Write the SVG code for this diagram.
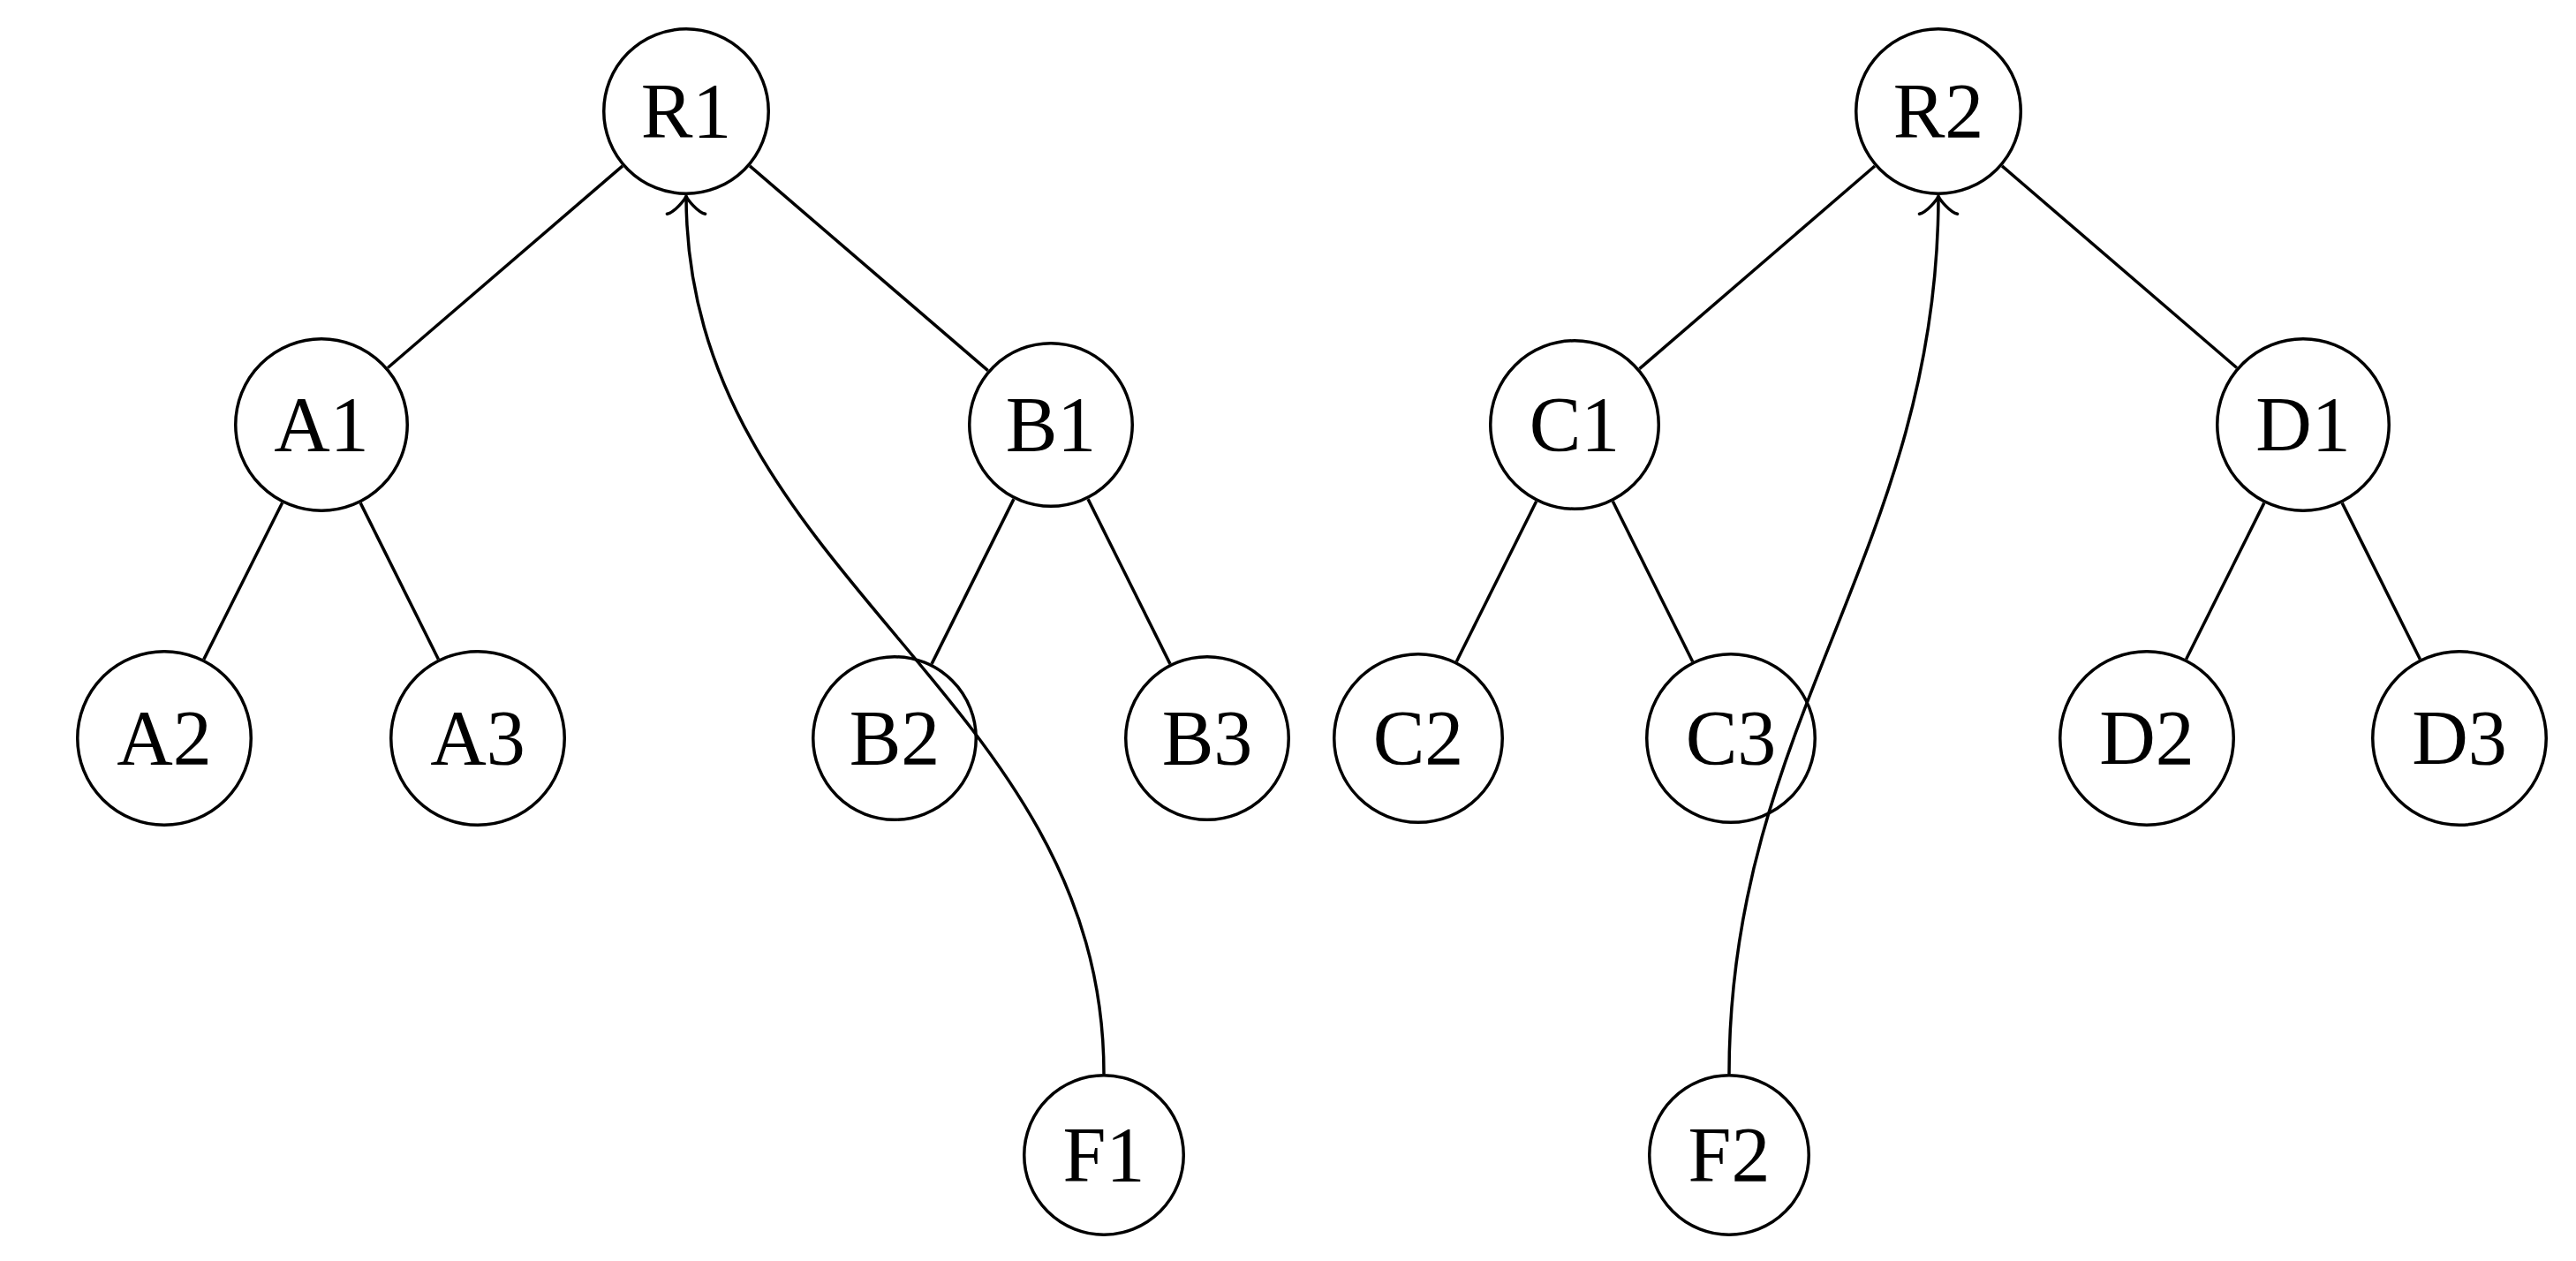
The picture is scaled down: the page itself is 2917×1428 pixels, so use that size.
<svg xmlns="http://www.w3.org/2000/svg" width="2917" height="1428" viewBox="0 0 2917 1428">
<style>
.node circle{fill:none;stroke:#000;stroke-width:3.5}
.node text{font-family:"Liberation Serif","Times New Roman",serif;font-size:88px;text-anchor:middle;fill:#000}
.edge{stroke:#000;stroke-width:3.5;fill:none}
.arrow{stroke:#000;stroke-width:3.5;fill:none;marker-end:url(#tip)}
</style>
<defs>
<marker id="tip" markerUnits="userSpaceOnUse" orient="auto" refX="0" refY="0" markerWidth="60" markerHeight="60" viewBox="-30 -30 60 60" overflow="visible">
<path d="M -20.25,-21.6 C -18.9,-13.5 -4,-1.4 0,0 C -4,1.4 -18.9,13.5 -20.25,21.6" fill="none" stroke="#000" stroke-width="3.5" stroke-linecap="round" stroke-linejoin="round"/>
</marker>
</defs>
<rect width="2917" height="1428" fill="#fff"/>
<g id="connectors">
<line class="edge" x1="705" y1="187.9" x2="439.1" y2="416.5"/>
<line class="edge" x1="849" y1="187.9" x2="1118.7" y2="419.7"/>
<line class="edge" x1="2123" y1="188" x2="1856.5" y2="417.7"/>
<line class="edge" x1="2267" y1="187.9" x2="2532.9" y2="416.5"/>
<line class="edge" x1="319.6" y1="569.5" x2="230.8" y2="746.6"/>
<line class="edge" x1="408.2" y1="569.6" x2="496.4" y2="746.5"/>
<line class="edge" x1="1148" y1="565.1" x2="1055" y2="751.9"/>
<line class="edge" x1="1232" y1="565.1" x2="1325" y2="751.9"/>
<line class="edge" x1="1739.7" y1="567.8" x2="1649.3" y2="749.2"/>
<line class="edge" x1="1826.3" y1="567.8" x2="1916.7" y2="749.2"/>
<line class="edge" x1="2563.8" y1="569.6" x2="2475.6" y2="746.5"/>
<line class="edge" x1="2652.2" y1="569.6" x2="2740.4" y2="746.5"/>
<path class="arrow" d="M 1250,1216 C 1250,785 777,652 777,222"/>
<path class="arrow" d="M 1958,1216 C 1958,816 2195,621 2195,222"/>
</g>
<g id="R1" class="node"><circle cx="777" cy="126" r="93.25"/><text x="777" y="155">R1</text></g>
<g id="A1" class="node"><circle cx="364" cy="481" r="97.25"/><text x="364" y="510">A1</text></g>
<g id="B1" class="node"><circle cx="1190" cy="481" r="92.25"/><text x="1190" y="510">B1</text></g>
<g id="A2" class="node"><circle cx="186" cy="836" r="98.25"/><text x="186" y="865">A2</text></g>
<g id="A3" class="node"><circle cx="541" cy="836" r="98.25"/><text x="541" y="865">A3</text></g>
<g id="B2" class="node"><circle cx="1013" cy="836" r="92.25"/><text x="1013" y="865">B2</text></g>
<g id="B3" class="node"><circle cx="1367" cy="836" r="92.25"/><text x="1367" y="865">B3</text></g>
<g id="F1" class="node"><circle cx="1250" cy="1308" r="90.25"/><text x="1250" y="1337">F1</text></g>
<g id="R2" class="node"><circle cx="2195" cy="126" r="93.25"/><text x="2195" y="155">R2</text></g>
<g id="C1" class="node"><circle cx="1783" cy="481" r="95.25"/><text x="1783" y="510">C1</text></g>
<g id="D1" class="node"><circle cx="2608" cy="481" r="97.25"/><text x="2608" y="510">D1</text></g>
<g id="C2" class="node"><circle cx="1606" cy="836" r="95.25"/><text x="1606" y="865">C2</text></g>
<g id="C3" class="node"><circle cx="1960" cy="836" r="95.25"/><text x="1960" y="865">C3</text></g>
<g id="D2" class="node"><circle cx="2431" cy="836" r="98.25"/><text x="2431" y="865">D2</text></g>
<g id="D3" class="node"><circle cx="2785" cy="836" r="98.25"/><text x="2785" y="865">D3</text></g>
<g id="F2" class="node"><circle cx="1958" cy="1308" r="90.25"/><text x="1958" y="1337">F2</text></g>
</svg>
